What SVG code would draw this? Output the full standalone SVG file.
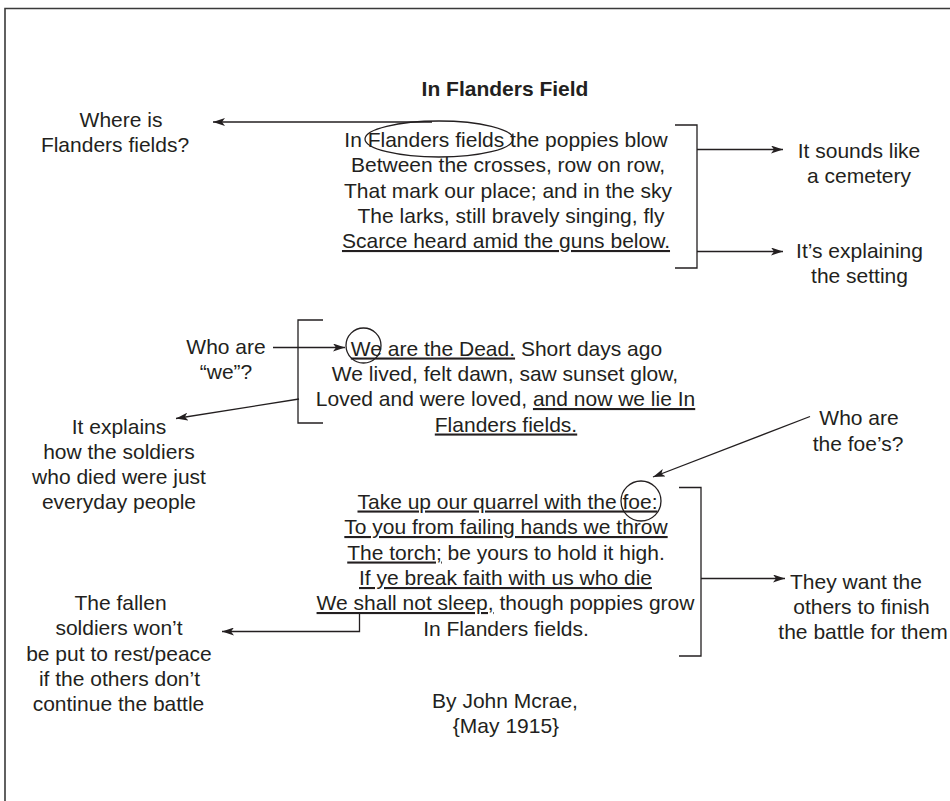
<svg xmlns="http://www.w3.org/2000/svg" width="950" height="801" viewBox="0 0 950 801">
<style>
text{font-family:"Liberation Sans",Arial,Helvetica,sans-serif;font-size:21px;fill:#231f20;text-anchor:middle}
.b{font-weight:bold}
.u{text-decoration:underline}
.ln{fill:none;stroke:#231f20;stroke-width:1.3}
.frame{fill:none;stroke:#3a3a3a;stroke-width:1.6}
</style>
<defs>
<marker id="ah" viewBox="0 0 12 8" refX="12" refY="4" markerWidth="12" markerHeight="8" markerUnits="userSpaceOnUse" orient="auto">
<path d="M0,0 L12,4 L0,8 L3,4 z" fill="#231f20"/>
</marker>
</defs>
<rect width="950" height="801" fill="#fff"/>
<path class="frame" d="M5,801 V8.5 H950"/>

<g id="title"><text class="b" x="505" y="96">In Flanders Field</text></g>

<g id="stanza1">
<text x="506" y="147">In Flanders fields the poppies blow</text>
<text x="508" y="172">Between the crosses, row on row,</text>
<text x="508" y="197.5">That mark our place; and in the sky</text>
<text x="511" y="223">The larks, still bravely singing, fly</text>
<text class="u" x="506" y="248">Scarce heard amid the guns below.</text>
<ellipse class="ln" cx="439" cy="139" rx="74" ry="18"/>
<path class="ln" d="M675,125 H697 V268 H675"/>
</g>

<g id="stanza2">
<text x="506.5" y="355.5"><tspan class="u">We are the Dead.</tspan> Short days ago</text>
<text x="505" y="381">We lived, felt dawn, saw sunset glow,</text>
<text x="505.5" y="406"><tspan>Loved and were loved, </tspan><tspan class="u">and now we lie In</tspan></text>
<text class="u" x="506" y="431.5">Flanders fields.</text>
<circle class="ln" cx="363.5" cy="345.5" r="17.5"/>
<path class="ln" d="M323,320 H298 V423 H323"/>
</g>

<g id="stanza3">
<text class="u" x="507.5" y="508.5">Take up our quarrel with the foe:</text>
<text class="u" x="506" y="534">To you from failing hands we throw</text>
<text x="506" y="559.5"><tspan class="u">The torch;</tspan> be yours to hold it high.</text>
<text class="u" x="505.5" y="585">If ye break faith with us who die</text>
<text x="505.5" y="610"><tspan class="u">We shall not sleep,</tspan> though poppies grow</text>
<text x="506" y="635.5">In Flanders fields.</text>
<circle class="ln" cx="641" cy="501" r="20"/>
<path class="ln" d="M679,487.5 H701 V656 H679"/>
</g>

<g id="byline">
<text x="505" y="708">By John Mcrae,</text>
<text x="506" y="733">{May 1915}</text>
</g>

<g id="label-where"><text x="121" y="127">Where is</text><text x="115" y="152">Flanders fields?</text></g>
<g id="label-sounds"><text x="859" y="158">It sounds like</text><text x="859" y="183">a cemetery</text></g>
<g id="label-setting"><text x="859.5" y="258">It’s explaining</text><text x="859.5" y="283">the setting</text></g>
<g id="label-who-we"><text x="226" y="353.5">Who are</text><text x="226" y="379">“we”?</text></g>
<g id="label-explains">
<text x="119" y="433.5">It explains</text>
<text x="119" y="458.5">how the soldiers</text>
<text x="119" y="483.5">who died were just</text>
<text x="119" y="508.5">everyday people</text>
</g>
<g id="label-foe"><text x="859" y="425">Who are</text><text x="858" y="450.5">the foe’s?</text></g>
<g id="label-want">
<text x="856" y="588.5">They want the</text>
<text x="861.5" y="613.5">others to finish</text>
<text x="863" y="638.5">the battle for them</text>
</g>
<g id="label-fallen">
<text x="120.5" y="610">The fallen</text>
<text x="119" y="635">soldiers won’t</text>
<text x="119" y="660.5">be put to rest/peace</text>
<text x="119.5" y="686">if the others don’t</text>
<text x="118.5" y="711">continue the battle</text>
</g>

<g id="connectors">
<line class="ln" x1="432" y1="122" x2="213" y2="122" marker-end="url(#ah)"/>
<line class="ln" x1="697" y1="149.5" x2="783" y2="149.5" marker-end="url(#ah)"/>
<line class="ln" x1="697" y1="251.5" x2="783" y2="251.5" marker-end="url(#ah)"/>
<line class="ln" x1="273" y1="347.5" x2="345" y2="347.5" marker-end="url(#ah)"/>
<line class="ln" x1="299" y1="399" x2="176" y2="418.5" marker-end="url(#ah)"/>
<line class="ln" x1="810" y1="416.5" x2="653" y2="477" marker-end="url(#ah)"/>
<line class="ln" x1="701" y1="578.5" x2="785" y2="578.5" marker-end="url(#ah)"/>
<path class="ln" d="M359.5,613 V631.5 H222" marker-end="url(#ah)"/>
</g>
</svg>
